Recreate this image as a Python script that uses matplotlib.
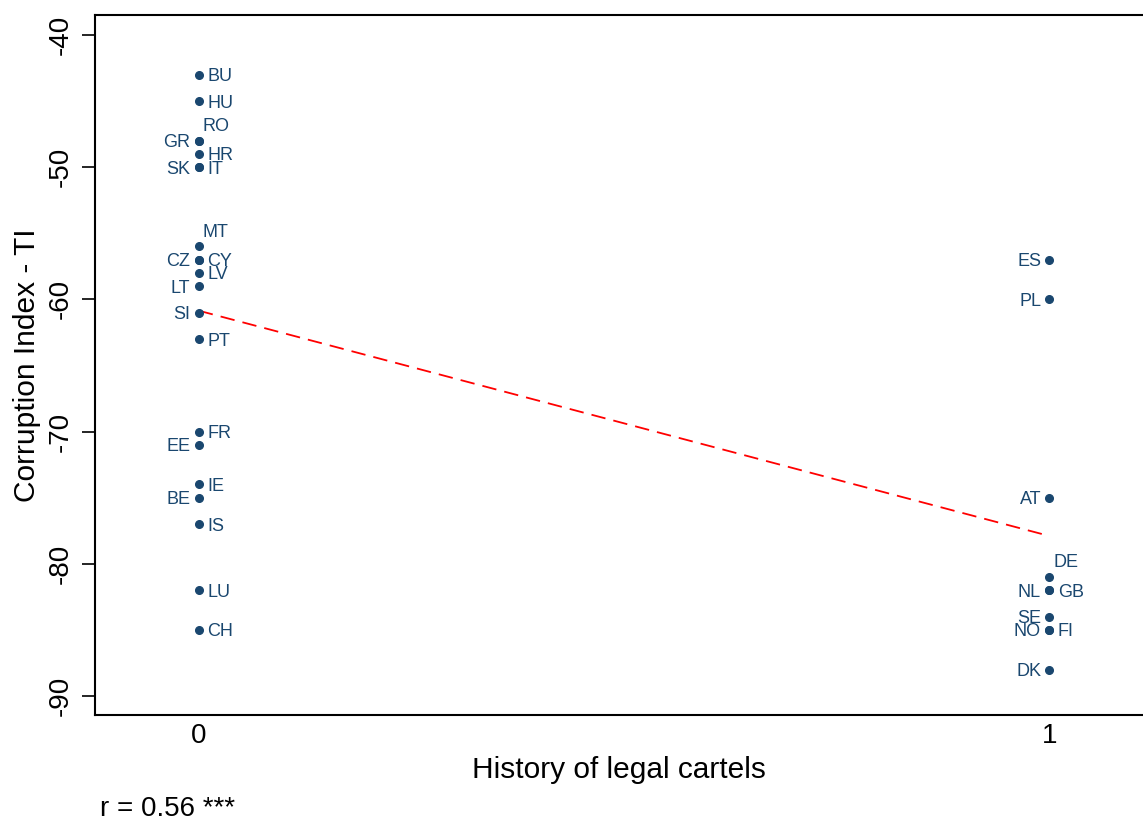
import numpy as np
import matplotlib
matplotlib.use("Agg")
import matplotlib.pyplot as plt

plt.rcParams['font.family'] = ['Liberation Sans', 'DejaVu Sans']
plt.rcParams['axes.unicode_minus'] = False

# -----------------------
# data
# -----------------------
countries = ["BU", "HU", "GR", "RO", "HR", "SK", "IT", "MT", "CZ", "CY", "LV", "LT",
             "SI", "PT", "FR", "EE", "IE", "BE", "IS", "LU", "CH",
             "ES", "PL", "AT", "DE", "NL", "GB", "SE", "NO", "FI", "DK"]
cartels = [0, 0, 0, 0, 0, 0, 0, 0, 0, 0, 0, 0, 0, 0, 0, 0, 0, 0, 0, 0, 0,
           1, 1, 1, 1, 1, 1, 1, 1, 1, 1]
corruption = [-43, -45, -48, -48, -49, -50, -50, -56, -57, -57, -58, -59,
              -61, -63, -70, -71, -74, -75, -77, -82, -85,
              -57, -60, -75, -81, -82, -82, -84, -85, -85, -88]
# label side: r = right, l = left, ur = up-right
label_pos = ["r", "r", "l", "ur", "r", "l", "r", "ur", "l", "r", "r", "l",
             "l", "r", "r", "l", "r", "l", "r", "r", "r",
             "l", "l", "l", "ur", "l", "r", "l", "l", "r", "l"]

navy = "#1a476f"

fig = plt.figure(figsize=(11.43, 8.24), dpi=100)
ax = fig.add_axes([95/1143, 1 - 715/824, 1 - 95/1143, (715 - 15)/824])

ax.plot(cartels, corruption, "o", color=navy, markersize=5.5, zorder=3)

offsets = {"r": (6, 0, "left", "center_baseline"),
           "l": (-6, 0, "right", "center_baseline"),
           "ur": (3, 4, "left", "bottom")}
for name, x, y, p in zip(countries, cartels, corruption, label_pos):
    dx, dy, ha, va = offsets[p]
    ax.annotate(name, (x, y), xytext=(dx, dy), textcoords="offset points",
                ha=ha, va=va, fontsize=13, color=navy)

# fitted line
b, a = np.polyfit(cartels, corruption, 1)
xs = np.array([0, 1])
ax.plot(xs, a + b * xs, color="red", linestyle=(0, (8, 4.5)), linewidth=1.3, zorder=2)

ax.set_xlim(-0.122, 1.11)
ax.set_ylim(-91.44, -38.49)
ax.set_xticks([0, 1])
ax.set_yticks([-40, -50, -60, -70, -80, -90])
ax.tick_params(axis="x", length=0, labelsize=20, pad=6)
ax.tick_params(axis="y", length=9.5, width=1.2, labelsize=20, pad=6)
for lab in ax.get_yticklabels():
    lab.set_rotation(90)
    lab.set_va("center")

for s in ["left", "bottom", "top"]:
    ax.spines[s].set_linewidth(1.5)
ax.spines["right"].set_visible(False)

ax.set_xlabel("History of legal cartels", fontsize=21.5, labelpad=5)
ax.set_ylabel("Corruption Index - TI", fontsize=21.5, labelpad=5)

fig.text(100/1143, 1 - 816/824, "r = 0.56 ***", fontsize=20, ha="left", va="baseline")

plt.savefig("out.png", dpi=100)
plt.close()
